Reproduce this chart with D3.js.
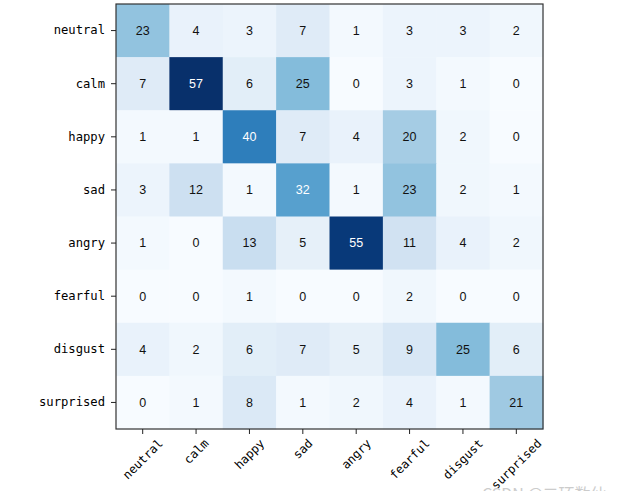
<!DOCTYPE html>
<html>
<head>
<meta charset="utf-8">
<script src="https://cdn.jsdelivr.net/npm/d3@7"></script>
<style>
  body { margin: 0; background: #fff; }
  text { font-family: "DejaVu Sans Mono", monospace; }
</style>
</head>
<body>
<div id="chart"></div>
<script>
const labels = ["neutral", "calm", "happy", "sad", "angry", "fearful", "disgust", "surprised"];

// rows = true class, columns = predicted
const matrix = [
    [23, 4, 3, 7, 1, 3, 3, 2],
    [7, 57, 6, 25, 0, 3, 1, 0],
    [1, 1, 40, 7, 4, 20, 2, 0],
    [3, 12, 1, 32, 1, 23, 2, 1],
    [1, 0, 13, 5, 55, 11, 4, 2],
    [0, 0, 1, 0, 0, 2, 0, 0],
    [4, 2, 6, 7, 5, 9, 25, 6],
    [0, 1, 8, 1, 2, 4, 1, 21]
];

const width = 632, height = 491;
const margin = { top: 4, right: 89, bottom: 62, left: 116 };

var svg = d3.select("#chart")
    .append("svg")
    .attr("width", width)
    .attr("height", height);

var x = d3.scaleBand()
    .domain(labels)
    .range([margin.left, width - margin.right]);

var y = d3.scaleBand()
    .domain(labels)
    .range([margin.top, height - margin.bottom]);

var maxVal = d3.max(matrix, r => d3.max(r));
var color = d3.scaleSequential(d3.interpolateBlues).domain([0, maxVal]);

var cells = [];
matrix.forEach(function (row, i) {
    row.forEach(function (v, j) {
        cells.push({ row: labels[i], col: labels[j], value: v });
    });
});

svg.append("g")
    .selectAll("rect")
    .data(cells)
    .enter().append("rect")
    .attr("x", d => x(d.col))
    .attr("y", d => y(d.row))
    .attr("width", x.bandwidth() + 0.5)
    .attr("height", y.bandwidth() + 0.5)
    .attr("fill", d => color(d.value));

svg.append("g")
    .selectAll("text")
    .data(cells)
    .enter().append("text")
    .attr("x", d => x(d.col) + x.bandwidth() / 2)
    .attr("y", d => y(d.row) + y.bandwidth() / 2)
    .attr("dy", "0.35em")
    .attr("text-anchor", "middle")
    .attr("font-size", 12.5)
    .style("font-family", "'Liberation Sans', Arial, sans-serif")
    .attr("fill", d => d.value > maxVal / 2 ? "white" : "#111")
    .text(d => d.value);

// frame
svg.append("rect")
    .attr("x", margin.left)
    .attr("y", margin.top)
    .attr("width", width - margin.left - margin.right)
    .attr("height", height - margin.top - margin.bottom)
    .attr("fill", "none")
    .attr("stroke", "#333")
    .attr("stroke-width", 1.2);

// y axis
var yAxis = svg.append("g")
    .attr("transform", "translate(" + margin.left + ",0)")
    .call(d3.axisLeft(y).tickSize(5).tickPadding(6));
yAxis.select(".domain").remove();
yAxis.selectAll("line").attr("stroke", "#222");
yAxis.selectAll("text").attr("font-size", 12.2).attr("fill", "#000")
    .style("font-family", "'DejaVu Sans Mono', monospace");

// x axis, labels rotated 45 and centred under tick
var bottom = height - margin.bottom;
var xAxis = svg.append("g")
    .attr("transform", "translate(0," + bottom + ")")
    .call(d3.axisBottom(x).tickSize(5).tickFormat(""));
xAxis.select(".domain").remove();
xAxis.selectAll("line").attr("stroke", "#222");

svg.append("g")
    .selectAll("text")
    .data(labels)
    .enter().append("text")
    .attr("font-size", 12)
    .attr("text-anchor", "middle")
    .attr("dy", "0.35em")
    .text(d => d)
    .each(function (d) {
        var w = this.getComputedTextLength();
        var h = 12;
        var bh = (w + h) * Math.SQRT1_2;
        var cx = x(d) + x.bandwidth() / 2;
        var cy = bottom + 8 + bh / 2;
        d3.select(this).attr("transform", "translate(" + cx + "," + cy + ") rotate(-45)");
    });

// watermark, cut off at the bottom edge as in the screenshot
svg.append("text")
    .attr("x", 482)
    .attr("y", 500)
    .attr("font-size", 16)
    .attr("fill", "#ccc")
    .style("font-family", "'Noto Sans CJK SC', sans-serif")
    .text("CSDN @二环数仙");
</script>
</body>
</html>
